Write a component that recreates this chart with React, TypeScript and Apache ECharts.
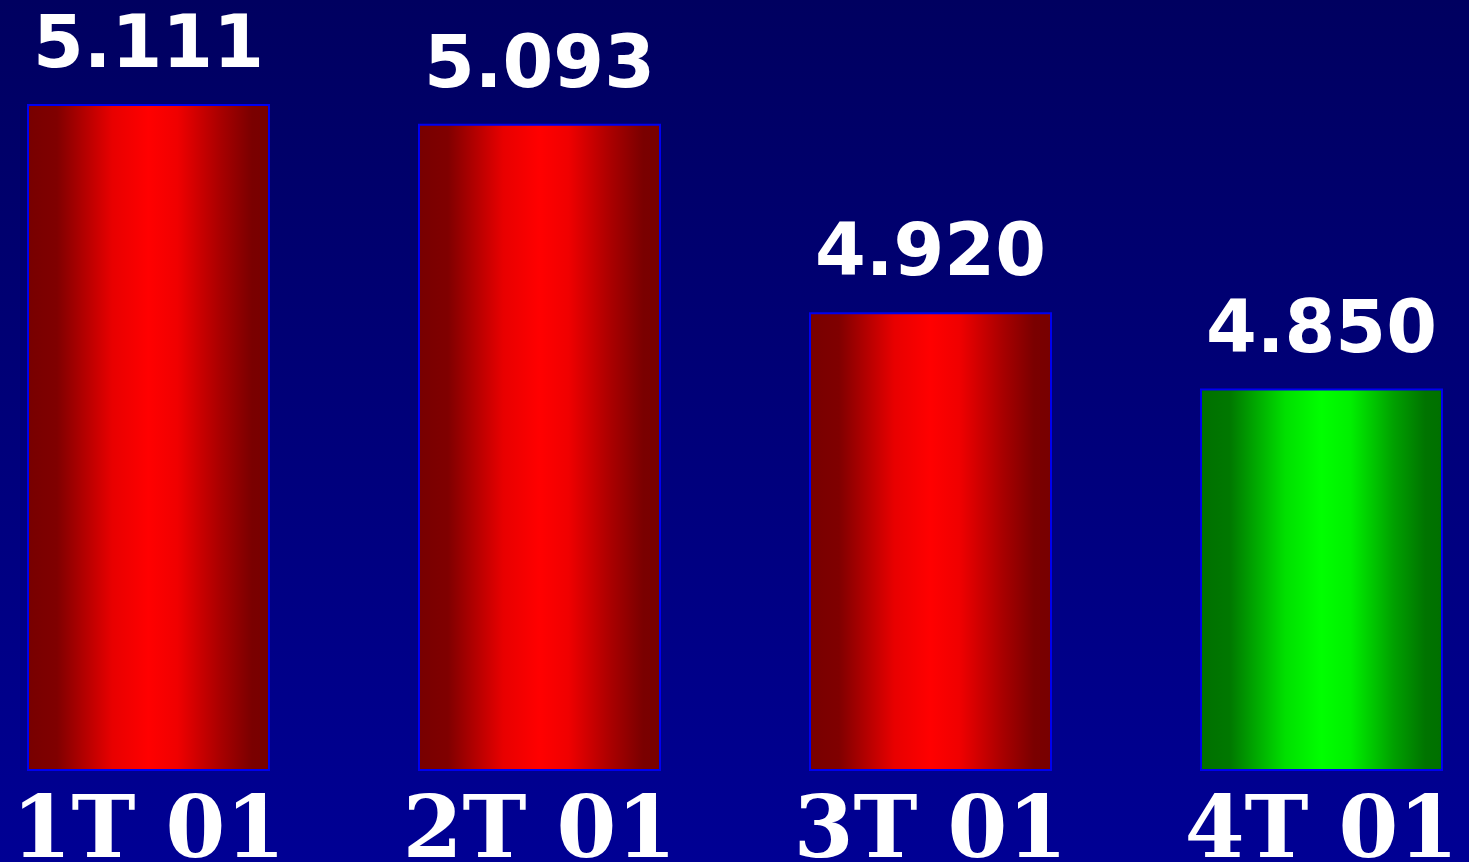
import React, { useEffect, useRef } from "react";
import * as echarts from "echarts";

const categories = ["1T 01", "2T 01", "3T 01", "4T 01"];
const values = [5.111, 5.093, 4.92, 4.85];
const barKinds = ["red", "red", "red", "green"];

const redGrad = () =>
  new echarts.graphic.LinearGradient(0, 0, 1, 0, [
    { offset: 0, color: "#780000" },
    { offset: 0.12, color: "#800000" },
    { offset: 0.35, color: "#e80000" },
    { offset: 0.5, color: "#ff0000" },
    { offset: 0.62, color: "#f00000" },
    { offset: 0.8, color: "#a80000" },
    { offset: 0.93, color: "#7a0000" },
    { offset: 1, color: "#780000" },
  ]);
const greenGrad = () =>
  new echarts.graphic.LinearGradient(0, 0, 1, 0, [
    { offset: 0, color: "#007000" },
    { offset: 0.12, color: "#007800" },
    { offset: 0.35, color: "#00e000" },
    { offset: 0.5, color: "#00ff00" },
    { offset: 0.62, color: "#00f000" },
    { offset: 0.8, color: "#00a000" },
    { offset: 0.93, color: "#007400" },
    { offset: 1, color: "#007000" },
  ]);

export default function App() {
  const ref = useRef<HTMLDivElement>(null);
  useEffect(() => {
    const chart = echarts.init(ref.current!, null, { renderer: "svg" });
    chart.setOption({
      animation: false,
      backgroundColor: new echarts.graphic.LinearGradient(0, 0, 0, 1, [
        { offset: 0, color: "#000060" },
        { offset: 1, color: "#000094" },
      ]),
      grid: {
        left: -47,
        right: -48,
        top: 7,
        bottom: 92,
        containLabel: false,
        outerBoundsMode: "none",
      },
      xAxis: {
        type: "category",
        data: categories,
        axisLine: { show: false },
        axisTick: { show: false },
        axisLabel: {
          color: "#ffffff",
          fontFamily: "DejaVu Serif",
          fontWeight: "bold",
          fontSize: 86,
          margin: 13,
          interval: 0,
          hideOverlap: false,
        },
      },
      yAxis: {
        type: "value",
        min: 4.5,
        max: 5.2,
        show: false,
        splitLine: { show: false },
      },
      series: [
        {
          type: "bar",
          barWidth: 243,
          data: values.map((v, i) => ({
            value: v,
            itemStyle: {
              color: barKinds[i] === "green" ? greenGrad() : redGrad(),
              borderColor: "#0000f0",
              borderWidth: 2,
            },
          })),
          label: {
            show: true,
            position: "top",
            distance: 26,
            color: "#ffffff",
            fontFamily: "DejaVu Sans",
            fontWeight: "bold",
            fontSize: 73,
            formatter: (p: any) => p.value.toFixed(3),
          },
        },
      ],
    });
    return () => chart.dispose();
  }, []);
  return (
    <div
      ref={ref}
      style={{ position: "fixed", left: 0, top: 0, width: 1469, height: 862 }}
    />
  );
}
